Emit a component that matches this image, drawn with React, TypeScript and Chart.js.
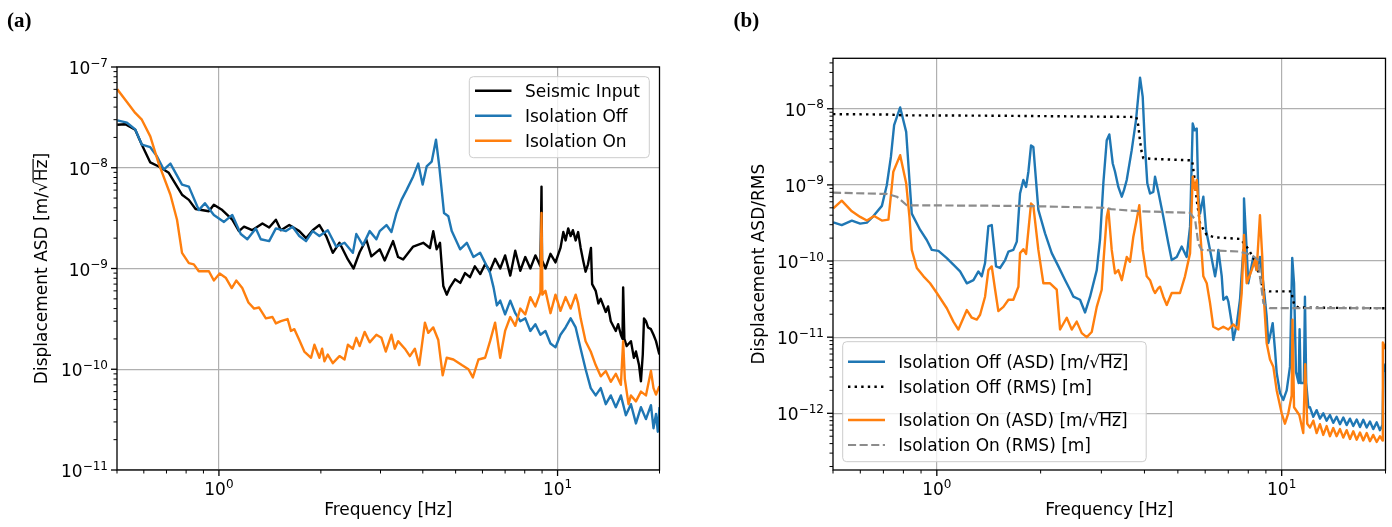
import { useEffect, useRef } from "react";
import { Chart, registerables } from "chart.js";

Chart.register(...registerables);

// ---------------- Panel (a): [frequency Hz, displacement ASD m/sqrt(Hz)] ----------------
const seismicA: [number, number][] = [
  [0.501, 2.67e-8], [0.529, 2.7e-8], [0.566, 2.38e-8], [0.592, 1.69e-8], [0.627, 1.13e-8], [0.664, 1.03e-8],
  [0.711, 8.9e-9], [0.778, 5.4e-9], [0.815, 4.8e-9], [0.853, 3.9e-9], [0.934, 3.7e-9], [0.966, 4.3e-9],
  [1.023, 3.8e-9], [1.095, 3.05e-9], [1.146, 2.35e-9], [1.186, 2.6e-9], [1.253, 2.4e-9], [1.344, 2.8e-9],
  [1.407, 2.55e-9], [1.473, 3.05e-9], [1.524, 2.4e-9], [1.613, 2.7e-9], [1.727, 2.35e-9], [1.808, 2.0e-9],
  [1.892, 2.4e-9], [1.98, 2.7e-9], [2.073, 2.1e-9], [2.169, 1.43e-9], [2.27, 1.8e-9], [2.403, 1.23e-9],
  [2.498, 1.0e-9], [2.603, 1.45e-9], [2.724, 1.94e-9], [2.819, 1.32e-9], [2.984, 1.55e-9], [3.087, 1.2e-9],
  [3.267, 1.87e-9], [3.381, 1.3e-9], [3.498, 1.23e-9], [3.747, 1.65e-9], [4.012, 1.8e-9], [4.199, 1.6e-9],
  [4.295, 2.35e-9], [4.395, 1.55e-9], [4.496, 1.8e-9], [4.598, 6.7e-10], [4.706, 5.5e-10], [4.81, 6.5e-10],
  [4.98, 7.8e-10], [5.16, 7.2e-10], [5.33, 9.0e-10], [5.51, 8.2e-10], [5.7, 1.05e-9], [5.91, 8.8e-10],
  [6.11, 1.1e-9], [6.32, 9.5e-10], [6.54, 1.25e-9], [6.77, 1.0e-9], [7.0, 1.35e-9], [7.25, 8.5e-10],
  [7.5, 1.5e-9], [7.76, 9.5e-10], [8.03, 1.3e-9], [8.31, 1.0e-9], [8.6, 1.35e-9], [8.9, 1.05e-9],
  [8.966, 6.5e-9], [9.0, 1.2e-9], [9.21, 1.0e-9], [9.53, 1.4e-9], [9.86, 1.15e-9], [10.2, 1.6e-9],
  [10.4, 2.3e-9], [10.56, 1.9e-9], [10.75, 2.5e-9], [10.93, 2.1e-9], [11.1, 2.4e-9], [11.31, 1.9e-9],
  [11.5, 2.3e-9], [11.7, 1.6e-9], [11.9, 1.2e-9], [12.1, 9.3e-10], [12.3, 1.1e-9], [12.55, 1.6e-9],
  [12.65, 7e-10], [12.96, 6e-10], [13.2, 4.5e-10], [13.41, 5e-10], [13.88, 3.7e-10], [14.1, 4.2e-10],
  [14.36, 3e-10], [14.86, 2.4e-10], [15.1, 2.8e-10], [15.38, 2.2e-10], [15.55, 2.0e-10], [15.62, 6.5e-10],
  [15.75, 2.0e-10], [16.0, 1.7e-10], [16.47, 1.9e-10], [16.8, 1.3e-10], [17.04, 1.5e-10], [17.4, 1.1e-10],
  [17.63, 7.6e-11], [17.85, 1.4e-10], [18.0, 3.2e-10], [18.24, 3.0e-10], [18.5, 2.6e-10], [18.87, 2.5e-10],
  [19.2, 2.2e-10], [19.53, 1.9e-10], [19.98, 1.4e-10],
];

const offA: [number, number][] = [
  [0.501, 2.95e-8], [0.535, 2.8e-8], [0.566, 2.4e-8], [0.592, 1.7e-8], [0.627, 1.6e-8], [0.656, 1.3e-8],
  [0.687, 9.6e-9], [0.719, 1.1e-8], [0.778, 6.8e-9], [0.815, 6.5e-9], [0.872, 3.8e-9], [0.909, 4.45e-9],
  [0.966, 3.4e-9], [1.035, 2.9e-9], [1.095, 3.4e-9], [1.16, 2.2e-9], [1.213, 1.95e-9], [1.285, 2.5e-9],
  [1.329, 1.95e-9], [1.407, 1.87e-9], [1.473, 2.5e-9], [1.577, 2.35e-9], [1.65, 2.6e-9], [1.727, 2.1e-9],
  [1.808, 1.87e-9], [1.892, 2.35e-9], [1.98, 2.1e-9], [2.096, 2.4e-9], [2.22, 1.65e-9], [2.349, 1.8e-9],
  [2.486, 1.43e-9], [2.545, 2.2e-9], [2.662, 1.7e-9], [2.787, 2.35e-9], [2.917, 1.95e-9], [2.984, 2.35e-9],
  [3.124, 2.7e-9], [3.232, 2.3e-9], [3.344, 3.55e-9], [3.46, 4.8e-9], [3.581, 6.0e-9], [3.747, 8.2e-9],
  [3.877, 1.1e-8], [3.995, 6.8e-9], [4.106, 1.03e-8], [4.249, 1.15e-8], [4.375, 1.9e-8], [4.474, 1.03e-8],
  [4.621, 3.55e-9], [4.758, 3.3e-9], [4.87, 2.35e-9], [5.155, 1.55e-9], [5.395, 1.8e-9], [5.644, 1.3e-9],
  [5.907, 1.43e-9], [6.184, 1.05e-9], [6.32, 9e-10], [6.47, 6.5e-10], [6.62, 4.3e-10], [6.77, 4.8e-10],
  [7.0, 3.5e-10], [7.25, 4.8e-10], [7.5, 3.6e-10], [7.76, 3.0e-10], [8.03, 3.2e-10], [8.31, 2.4e-10],
  [8.6, 2.8e-10], [8.9, 2.2e-10], [9.21, 2.4e-10], [9.53, 1.8e-10], [9.86, 1.65e-10], [10.2, 2.2e-10],
  [10.56, 2.6e-10], [10.93, 3.2e-10], [11.31, 2.6e-10], [11.7, 1.6e-10], [12.1, 1.0e-10], [12.53, 6.5e-11],
  [12.96, 5.5e-11], [13.41, 6.5e-11], [13.88, 4.5e-11], [14.36, 5.5e-11], [14.86, 4.2e-11], [15.38, 5.5e-11],
  [15.91, 3.5e-11], [16.47, 4.5e-11], [17.04, 2.9e-11], [17.63, 4.2e-11], [18.24, 3.2e-11], [18.87, 4.4e-11],
  [19.2, 2.6e-11], [19.53, 3.6e-11], [19.77, 2.4e-11], [20, 4.2e-11],
];

const onA: [number, number][] = [
  [0.501, 6.0e-8], [0.535, 4.5e-8], [0.566, 3.5e-8], [0.592, 3.0e-8], [0.627, 2.05e-8], [0.664, 1.1e-8],
  [0.719, 5.4e-9], [0.752, 3.05e-9], [0.778, 1.43e-9], [0.815, 1.13e-9], [0.843, 1.1e-9], [0.872, 9.4e-10],
  [0.934, 9.4e-10], [0.966, 7.6e-10], [1.005, 8.9e-10], [1.047, 8.1e-10], [1.091, 6.4e-10], [1.125, 7.6e-10],
  [1.172, 6.4e-10], [1.222, 4.6e-10], [1.27, 4.0e-10], [1.314, 4.1e-10], [1.376, 3.2e-10], [1.439, 3.3e-10],
  [1.473, 2.85e-10], [1.524, 3.0e-10], [1.595, 3.15e-10], [1.632, 2.4e-10], [1.67, 2.5e-10], [1.727, 1.95e-10],
  [1.787, 1.5e-10], [1.871, 1.3e-10], [1.914, 1.75e-10], [1.98, 1.3e-10], [2.017, 1.6e-10], [2.049, 1.2e-10],
  [2.096, 1.4e-10], [2.169, 1.15e-10], [2.27, 1.35e-10], [2.349, 1.25e-10], [2.403, 1.75e-10], [2.486, 1.6e-10],
  [2.545, 2.05e-10], [2.603, 1.7e-10], [2.693, 2.35e-10], [2.787, 1.85e-10], [2.917, 2.2e-10], [3.019, 2.05e-10],
  [3.109, 1.5e-10], [3.232, 2.2e-10], [3.306, 1.6e-10], [3.381, 1.9e-10], [3.54, 1.6e-10], [3.663, 1.35e-10],
  [3.79, 1.6e-10], [3.904, 1.1e-10], [4.058, 2.9e-10], [4.151, 2.3e-10], [4.295, 2.6e-10], [4.444, 1.95e-10],
  [4.579, 8.7e-11], [4.706, 1.3e-10], [4.924, 1.25e-10], [5.215, 1.1e-10], [5.455, 1.0e-10], [5.622, 8.3e-11],
  [5.84, 1.25e-10], [6.11, 1.3e-10], [6.32, 1.9e-10], [6.54, 2.9e-10], [6.77, 1.3e-10], [7.0, 2.4e-10],
  [7.25, 3.3e-10], [7.5, 2.7e-10], [7.76, 4.0e-10], [8.03, 3.5e-10], [8.31, 5.2e-10], [8.6, 4.2e-10],
  [8.9, 5.8e-10], [8.966, 3.55e-9], [9.02, 5.5e-10], [9.21, 6e-10], [9.53, 3.6e-10], [9.86, 5.5e-10],
  [10.2, 3.8e-10], [10.56, 5.2e-10], [10.93, 4.0e-10], [11.31, 5.5e-10], [11.5, 4.5e-10], [11.7, 3.2e-10],
  [12.1, 1.9e-10], [12.53, 1.5e-10], [12.96, 1.1e-10], [13.41, 8.5e-11], [13.88, 9.6e-11], [14.36, 7.5e-11],
  [14.86, 9e-11], [15.38, 7e-11], [15.62, 1.9e-10], [15.8, 8e-11], [16.2, 4.5e-11], [16.47, 5.5e-11],
  [17.04, 4.8e-11], [17.63, 6e-11], [18.24, 5.5e-11], [18.87, 9.6e-11], [19.2, 6.5e-11], [19.53, 5.6e-11],
  [19.98, 6.8e-11],
];

// ---------------- Panel (b): [frequency Hz, ASD m/sqrt(Hz) or RMS m] ----------------
const offAsdB: [number, number][] = [
  [0.501, 3.22e-10], [0.53, 2.97e-10], [0.567, 3.39e-10], [0.5995, 3.1e-10], [0.627, 3.2e-10], [0.655, 3.9e-10],
  [0.693, 5.3e-10], [0.716, 9.9e-10], [0.736, 2.33e-9], [0.752, 6.1e-9], [0.783, 1.04e-8], [0.815, 4.97e-9],
  [0.833, 1.16e-9], [0.846, 4.2e-10], [0.895, 2.56e-10], [0.935, 1.89e-10], [0.967, 1.4e-10], [1.011, 1.36e-10],
  [1.069, 1.09e-10], [1.13, 8.5e-11], [1.168, 7.3e-11], [1.222, 5.1e-11], [1.277, 5.6e-11], [1.32, 7.3e-11],
  [1.35, 6.3e-11], [1.38, 9.4e-11], [1.411, 2.88e-10], [1.443, 2.97e-10], [1.485, 8.5e-11], [1.525, 8.1e-11],
  [1.578, 1.03e-10], [1.613, 1.33e-10], [1.667, 1.4e-10], [1.706, 1.8e-10], [1.743, 7.7e-10], [1.782, 1.16e-9],
  [1.815, 9.4e-10], [1.843, 1.49e-9], [1.876, 3.3e-9], [1.905, 3.15e-9], [1.97, 4.7e-10], [2.06, 2.31e-10],
  [2.154, 1.27e-10], [2.252, 8.5e-11], [2.354, 5.65e-11], [2.434, 4.2e-11], [2.489, 3.41e-11], [2.602, 3.1e-11],
  [2.691, 2.11e-11], [2.782, 3.4e-11], [2.909, 7.6e-11], [2.973, 1.89e-10], [3.04, 1.05e-9], [3.11, 3.87e-9],
  [3.164, 4.6e-9], [3.237, 1.91e-9], [3.287, 1.49e-9], [3.36, 9.4e-10], [3.438, 7e-10], [3.491, 8.6e-10],
  [3.554, 1.16e-9], [3.674, 2.86e-9], [3.781, 7.1e-9], [3.884, 2.56e-8], [3.954, 1.43e-8], [4.015, 3.16e-9],
  [4.077, 1.05e-9], [4.152, 7.7e-10], [4.244, 8.1e-10], [4.293, 1.28e-9], [4.388, 8.1e-10], [4.537, 3.82e-10],
  [4.691, 1.71e-10], [4.799, 1.03e-10], [4.962, 1.13e-10], [5.13, 1.55e-10], [5.303, 1.13e-10], [5.424, 2.83e-10],
  [5.521, 6.4e-9], [5.595, 5.2e-9], [5.671, 5.5e-9], [5.733, 7e-10], [5.798, 4.2e-10], [5.927, 7e-10],
  [6.035, 2.56e-10], [6.198, 1.4e-10], [6.41, 6.3e-11], [6.482, 8.5e-11], [6.552, 1.4e-10], [6.702, 6.3e-11],
  [6.773, 3.1e-11], [6.928, 3.4e-11], [7.002, 2.96e-11], [7.163, 1.53e-11], [7.24, 9.2e-12], [7.406, 1.47e-11],
  [7.57, 3.1e-11], [7.739, 1.4e-10], [7.775, 6.65e-10], [7.915, 1.4e-10], [8.0, 5.1e-11], [8.272, 1.13e-10],
  [8.46, 7.6e-11], [8.65, 1.13e-10], [8.845, 5.1e-11], [9.045, 1.87e-11], [9.145, 8.4e-12], [9.25, 1.03e-11],
  [9.417, 1.53e-11], [9.563, 6.8e-12], [9.672, 3.4e-12], [9.888, 1.85e-12], [10.11, 1.5e-12], [10.34, 2.0e-12],
  [10.57, 4.1e-12], [10.73, 1.1e-10], [10.86, 5.1e-11], [11.0, 3.5e-12], [11.2, 2.5e-12], [11.27, 1.27e-11],
  [11.35, 2.5e-12], [11.6, 2.5e-12], [11.68, 3.4e-11], [11.78, 2.5e-12], [11.95, 1.2e-12], [12.08, 1.2e-12],
  [12.35, 9e-13], [12.63, 1.1e-12], [12.91, 8.5e-13], [13.2, 1.0e-12], [13.5, 8e-13], [13.8, 9.5e-13],
  [14.11, 7.5e-13], [14.43, 9e-13], [14.76, 7.2e-13], [15.09, 8.8e-13], [15.43, 7e-13], [15.78, 8.5e-13],
  [16.13, 6.8e-13], [16.5, 8.3e-13], [16.87, 6.6e-13], [17.24, 8.2e-13], [17.64, 6.5e-13], [18.03, 7.8e-13],
  [18.43, 6.2e-13], [18.86, 7.6e-13], [19.27, 6.0e-13], [19.6, 7e-13], [19.75, 4.4e-12], [20, 3.5e-12],
];

const offRmsB: [number, number][] = [
  [0.5, 8.5e-9], [0.72, 8.4e-9], [0.8, 8.2e-9], [1.5, 8.1e-9], [3.79, 7.8e-9], [3.84, 6.0e-9], [3.88, 3.9e-9],
  [3.92, 2.8e-9], [3.97, 2.25e-9], [4.2, 2.2e-9], [5.5, 2.1e-9], [5.58, 1.28e-9], [5.67, 6.3e-10],
  [5.8, 3.1e-10], [6.06, 2.2e-10], [6.4, 2.05e-10], [7.6, 1.95e-10], [7.78, 1.7e-10], [7.95, 1.5e-10],
  [8.26, 1.13e-10], [8.5, 8e-11], [8.65, 6.3e-11], [8.83, 4.2e-11], [9.2, 4.0e-11], [10.7, 4.0e-11],
  [10.75, 3.2e-11], [10.9, 2.6e-11], [11.2, 2.45e-11], [20, 2.4e-11],
];

const onAsdB: [number, number][] = [
  [0.501, 4.92e-10], [0.53, 6.2e-10], [0.567, 4.5e-10], [0.5995, 3.8e-10], [0.627, 3.4e-10], [0.658, 3.9e-10],
  [0.693, 3.4e-10], [0.724, 3.5e-10], [0.748, 1.49e-9], [0.783, 2.46e-9], [0.815, 1.05e-9], [0.833, 3.8e-10],
  [0.846, 1.4e-10], [0.875, 8.1e-11], [0.915, 6.3e-11], [0.956, 5.1e-11], [1.0, 3.8e-11], [1.069, 2.4e-11],
  [1.117, 1.6e-11], [1.155, 1.26e-11], [1.222, 2.27e-11], [1.263, 1.8e-11], [1.306, 1.7e-11], [1.335, 1.97e-11],
  [1.38, 3.4e-11], [1.411, 7.6e-11], [1.443, 8.5e-11], [1.476, 4.2e-11], [1.508, 2.2e-11], [1.56, 2.5e-11],
  [1.613, 3.1e-11], [1.667, 3.1e-11], [1.724, 4.6e-11], [1.743, 1.27e-10], [1.782, 1.43e-10], [1.815, 1.24e-10],
  [1.876, 5.7e-10], [1.905, 5.3e-10], [1.97, 1.4e-10], [2.037, 5.1e-11], [2.13, 5.1e-11], [2.227, 4.2e-11],
  [2.277, 1.26e-11], [2.381, 1.8e-11], [2.462, 1.26e-11], [2.545, 1.6e-11], [2.632, 1.13e-11], [2.721, 1.0e-11],
  [2.813, 1.17e-11], [2.909, 2.5e-11], [3.007, 4.2e-11], [3.04, 9.4e-11], [3.11, 3.8e-10], [3.143, 4.8e-10],
  [3.215, 1.4e-10], [3.287, 6.9e-11], [3.36, 7.6e-11], [3.438, 5.6e-11], [3.554, 1.13e-10], [3.633, 9.8e-11],
  [3.713, 2.07e-10], [3.799, 3.5e-10], [3.865, 5.4e-10], [3.954, 1.4e-10], [4.061, 6.3e-11], [4.152, 5.6e-11],
  [4.244, 4.2e-11], [4.293, 3.8e-11], [4.388, 4.4e-11], [4.438, 4.6e-11], [4.537, 3.4e-11], [4.642, 2.65e-11],
  [4.799, 3.8e-11], [5.072, 3.8e-11], [5.244, 6.3e-11], [5.424, 1.27e-10], [5.521, 1.28e-9], [5.607, 8.6e-10],
  [5.671, 1.16e-9], [5.771, 3.5e-10], [5.927, 6.3e-11], [6.063, 5.1e-11], [6.198, 2.8e-11], [6.333, 1.37e-11],
  [6.552, 1.26e-11], [6.773, 1.37e-11], [7.002, 1.26e-11], [7.24, 1.47e-11], [7.485, 1.26e-11], [7.656, 3.8e-11],
  [7.775, 2.2e-10], [7.915, 5.1e-11], [8.185, 7.6e-11], [8.366, 1.03e-10], [8.46, 7.6e-11], [8.65, 4.0e-10],
  [8.785, 1.13e-10], [8.845, 4.2e-11], [9.045, 8.4e-12], [9.25, 5.1e-12], [9.456, 4.1e-12], [9.672, 2.0e-12],
  [10.0, 1.0e-12], [10.22, 7.3e-13], [10.45, 1.0e-12], [10.69, 1.72e-12], [10.75, 1.7e-11], [10.86, 1.2e-12],
  [11.25, 9.5e-13], [11.55, 5.5e-13], [11.7, 4.4e-12], [11.86, 7.3e-13], [12.08, 6.5e-13], [12.35, 8e-13],
  [12.63, 5.5e-13], [12.91, 7.2e-13], [13.2, 5.2e-13], [13.5, 6.8e-13], [13.8, 5e-13], [14.11, 6.4e-13],
  [14.43, 5e-13], [14.76, 6.2e-13], [15.09, 4.8e-13], [15.43, 6e-13], [15.78, 4.6e-13], [16.13, 5.8e-13],
  [16.5, 4.5e-13], [16.87, 5.6e-13], [17.24, 4.4e-13], [17.64, 5.5e-13], [18.03, 4.3e-13], [18.43, 5.2e-13],
  [18.86, 4.2e-13], [19.27, 5.0e-13], [19.6, 4.4e-13], [19.65, 8.5e-12], [20, 7e-12],
];

const onRmsB: [number, number][] = [
  [0.5, 7.9e-10], [0.716, 7.6e-10], [0.766, 7.0e-10], [0.818, 5.4e-10], [1.743, 5.3e-10], [3.1, 5.0e-10],
  [3.2, 4.8e-10], [3.9, 4.5e-10], [5.42, 4.3e-10], [5.61, 3.5e-10], [5.73, 1.7e-10], [5.86, 1.4e-10],
  [7.57, 1.33e-10], [8.19, 1.2e-10], [8.55, 1.03e-10], [8.65, 6.3e-11], [8.85, 2.8e-11], [9.25, 2.4e-11],
  [20, 2.4e-11],
];

// ---------------- axes ----------------
const xRange: [number, number] = [0.5, 20];
const yRangeA: [number, number] = [1e-11, 1e-7];
const yRangeB: [number, number] = [1.8e-13, 4.6e-8];
const xLabelExps = [0, 1];
const yLabelExpsA = [-11, -10, -9, -8, -7];
const yLabelExpsB = [-12, -11, -10, -9, -8];

const FONT = "'DejaVu Sans', 'Liberation Sans', sans-serif";
const W = 696;
const H = 527;

type Seg = { t: string; over?: boolean };
type Series = { data: [number, number][]; color: string; width: number; dash: number[] };
type Row = { label: Seg[]; color: string; width: number; dash: number[]; y: number };
type Spec = {
  offsetX: number;
  area: { left: number; right: number; top: number; bottom: number };
  yRange: [number, number];
  yExps: number[];
  series: Series[];
  legend: { x: number; y: number; w: number; h: number; lx0: number; lx1: number; tx: number; rows: Row[] };
  yTitle: Seg[];
  yTitleX: number;
  tag: string;
  tagX: number;
};

const BLUE = "#1f77b4";
const ORANGE = "#ff7f0e";
const GREY = "#8c8c8c";
const DOT = [2.4, 4.2];
const DASH = [8.1, 3.5];

const unitSegs = (pre: string): Seg[] => [{ t: pre + "[m/\u221A" }, { t: "Hz", over: true }, { t: "]" }];

const specA: Spec = {
  offsetX: 0,
  area: { left: 117, right: 659.5, top: 67, bottom: 470 },
  yRange: yRangeA,
  yExps: yLabelExpsA,
  series: [
    { data: seismicA, color: "#000000", width: 2.4, dash: [] },
    { data: offA, color: BLUE, width: 2.4, dash: [] },
    { data: onA, color: ORANGE, width: 2.4, dash: [] },
  ],
  legend: {
    x: 469.3, y: 76.7, w: 180, h: 81, lx0: 475, lx1: 511.5, tx: 525,
    rows: [
      { label: [{ t: "Seismic Input" }], color: "#000000", width: 2.4, dash: [], y: 90.7 },
      { label: [{ t: "Isolation Off" }], color: BLUE, width: 2.4, dash: [], y: 115.7 },
      { label: [{ t: "Isolation On" }], color: ORANGE, width: 2.4, dash: [], y: 140.7 },
    ],
  },
  yTitle: unitSegs("Displacement ASD "),
  yTitleX: 46.5,
  tag: "(a)",
  tagX: 7,
};

const specB: Spec = {
  offsetX: 696,
  area: { left: 833, right: 1385.5, top: 58.3, bottom: 470 },
  yRange: yRangeB,
  yExps: yLabelExpsB,
  series: [
    { data: offAsdB, color: BLUE, width: 2.4, dash: [] },
    { data: offRmsB, color: "#000000", width: 2.4, dash: DOT },
    { data: onAsdB, color: ORANGE, width: 2.4, dash: [] },
    { data: onRmsB, color: GREY, width: 2.2, dash: DASH },
  ],
  legend: {
    x: 842.7, y: 341.7, w: 303.5, h: 120, lx0: 848, lx1: 885, tx: 898.3,
    rows: [
      { label: unitSegs("Isolation Off (ASD) "), color: BLUE, width: 2.4, dash: [], y: 361.7 },
      { label: [{ t: "Isolation Off (RMS) [m]" }], color: "#000000", width: 2.4, dash: DOT, y: 386.7 },
      { label: unitSegs("Isolation On (ASD) "), color: ORANGE, width: 2.4, dash: [], y: 420 },
      { label: [{ t: "Isolation On (RMS) [m]" }], color: GREY, width: 2.2, dash: DASH, y: 445 },
    ],
  },
  yTitle: [{ t: "Displacement ASD/RMS" }],
  yTitleX: 763.5,
  tag: "(b)",
  tagX: 733.5,
};

function logTicks(min: number, max: number) {
  const out: { value: number; major: boolean }[] = [];
  const e0 = Math.floor(Math.log10(min)) - 1;
  const e1 = Math.ceil(Math.log10(max)) + 1;
  for (let e = e0; e <= e1; e++) {
    for (let m = 1; m <= 9; m++) {
      const v = m * Math.pow(10, e);
      if (v >= min * 0.9999 && v <= max * 1.0001) out.push({ value: v, major: m === 1 });
    }
  }
  return out;
}

function richWidth(ctx: CanvasRenderingContext2D, segs: Seg[]) {
  return segs.reduce((w, s) => w + ctx.measureText(s.t).width, 0);
}

function drawRich(ctx: CanvasRenderingContext2D, segs: Seg[], x: number, y: number) {
  const rootTop = ctx.measureText("\u221A").actualBoundingBoxAscent || 13;
  let cx = x;
  for (const s of segs) {
    const w = ctx.measureText(s.t).width;
    ctx.fillText(s.t, cx, y);
    if (s.over) ctx.fillRect(cx - 0.6, y - rootTop, w + 1.2, 1.2);
    cx += w;
  }
}

function drawPow(ctx: CanvasRenderingContext2D, exp: number, x: number, y: number, align: "right" | "center") {
  const base = "10";
  const sup = exp < 0 ? "\u2212" + String(-exp) : String(exp);
  ctx.font = `17px ${FONT}`;
  const wb = ctx.measureText(base).width;
  ctx.font = `12px ${FONT}`;
  const ws = ctx.measureText(sup).width;
  const total = wb + ws;
  const x0 = align === "right" ? x - total : x - total / 2;
  ctx.font = `17px ${FONT}`;
  ctx.fillText(base, x0, y);
  ctx.font = `12px ${FONT}`;
  ctx.fillText(sup, x0 + wb, y - 7.5);
}

function buildChart(canvas: HTMLCanvasElement, spec: Spec) {
  const left = spec.area.left - spec.offsetX;
  const right = spec.area.right - spec.offsetX;
  const xTicks = logTicks(xRange[0], xRange[1]);
  const yTicks = logTicks(spec.yRange[0], spec.yRange[1]);
  const gridColor = (c: any) => (c.tick && c.tick.major ? "#b0b0b0" : "rgba(0,0,0,0)");

  const datasets = [...spec.series].reverse().map((s) => ({
    data: s.data.map(([x, y]) => ({ x, y })),
    borderColor: s.color,
    backgroundColor: s.color,
    borderWidth: s.width,
    borderDash: s.dash,
    borderJoinStyle: "round" as const,
    borderCapStyle: "butt" as const,
    pointRadius: 0,
    pointHoverRadius: 0,
    tension: 0,
    fill: false,
  }));

  const decor = {
    id: "decor" + spec.tag,
    afterDraw(chart: any) {
      const ctx: CanvasRenderingContext2D = chart.ctx;
      const a = chart.chartArea;
      const xs = chart.scales.x;
      const ys = chart.scales.y;
      const ox = spec.offsetX;
      ctx.save();
      ctx.fillStyle = "#000";
      ctx.strokeStyle = "#000";
      ctx.setLineDash([]);

      for (const t of xTicks) {
        const px = xs.getPixelForValue(t.value);
        ctx.lineWidth = t.major ? 1.3 : 1;
        ctx.beginPath();
        ctx.moveTo(px, a.bottom);
        ctx.lineTo(px, a.bottom + (t.major ? 6 : 3.5));
        ctx.stroke();
      }
      for (const t of yTicks) {
        const py = ys.getPixelForValue(t.value);
        ctx.lineWidth = t.major ? 1.3 : 1;
        ctx.beginPath();
        ctx.moveTo(a.left, py);
        ctx.lineTo(a.left - (t.major ? 6 : 3.5), py);
        ctx.stroke();
      }
      ctx.lineWidth = 1.3;
      ctx.strokeRect(a.left, a.top, a.right - a.left, a.bottom - a.top);

      ctx.textBaseline = "alphabetic";
      ctx.textAlign = "left";
      for (const e of xLabelExps) {
        const px = xs.getPixelForValue(Math.pow(10, e));
        drawPow(ctx, e, px, a.bottom + 25, "center");
      }
      for (const e of spec.yExps) {
        const py = ys.getPixelForValue(Math.pow(10, e));
        drawPow(ctx, e, a.left - 9, py + 7, "right");
      }

      ctx.font = `17px ${FONT}`;
      const xt = "Frequency [Hz]";
      ctx.fillText(xt, (a.left + a.right) / 2 - ctx.measureText(xt).width / 2, 515);
      ctx.save();
      ctx.translate(spec.yTitleX - ox, (a.top + a.bottom) / 2);
      ctx.rotate(-Math.PI / 2);
      const tw = richWidth(ctx, spec.yTitle);
      drawRich(ctx, spec.yTitle, -tw / 2, 0);
      ctx.restore();

      const L = spec.legend;
      const bx = L.x - ox;
      const r = 4;
      ctx.beginPath();
      ctx.moveTo(bx + r, L.y);
      ctx.lineTo(bx + L.w - r, L.y);
      ctx.quadraticCurveTo(bx + L.w, L.y, bx + L.w, L.y + r);
      ctx.lineTo(bx + L.w, L.y + L.h - r);
      ctx.quadraticCurveTo(bx + L.w, L.y + L.h, bx + L.w - r, L.y + L.h);
      ctx.lineTo(bx + r, L.y + L.h);
      ctx.quadraticCurveTo(bx, L.y + L.h, bx, L.y + L.h - r);
      ctx.lineTo(bx, L.y + r);
      ctx.quadraticCurveTo(bx, L.y, bx + r, L.y);
      ctx.closePath();
      ctx.fillStyle = "rgba(255,255,255,0.8)";
      ctx.fill();
      ctx.strokeStyle = "#cccccc";
      ctx.lineWidth = 1;
      ctx.stroke();
      for (const row of L.rows) {
        ctx.strokeStyle = row.color;
        ctx.lineWidth = row.width;
        ctx.setLineDash(row.dash);
        ctx.lineCap = "butt";
        ctx.beginPath();
        ctx.moveTo(L.lx0 - ox, row.y);
        ctx.lineTo(L.lx1 - ox, row.y);
        ctx.stroke();
        ctx.setLineDash([]);
        ctx.fillStyle = "#000";
        ctx.font = `17px ${FONT}`;
        drawRich(ctx, row.label, L.tx - ox, row.y + 6);
      }

      ctx.fillStyle = "#000";
      ctx.font = `bold 21px 'Liberation Serif', 'DejaVu Serif', serif`;
      ctx.fillText(spec.tag, spec.tagX - ox, 26.5);
      ctx.restore();
    },
  };

  return new Chart(canvas, {
    type: "line",
    data: { datasets },
    options: {
      animation: false,
      responsive: false,
      maintainAspectRatio: false,
      devicePixelRatio: 1,
      layout: { padding: { left: 0, right: W - right, top: spec.area.top, bottom: 0 } },
      plugins: { legend: { display: false }, tooltip: { enabled: false }, title: { display: false } },
      events: [],
      scales: {
        x: {
          type: "logarithmic",
          position: "bottom",
          min: xRange[0],
          max: xRange[1],
          afterBuildTicks: (s: any) => {
            s.ticks = xTicks.map((t) => ({ ...t }));
          },
          afterFit: (s: any) => {
            s.height = H - spec.area.bottom;
          },
          ticks: { display: false },
          grid: { color: gridColor, lineWidth: 1.2, drawTicks: false },
          border: { display: false },
        },
        y: {
          type: "logarithmic",
          position: "left",
          min: spec.yRange[0],
          max: spec.yRange[1],
          afterBuildTicks: (s: any) => {
            s.ticks = yTicks.map((t) => ({ ...t }));
          },
          afterFit: (s: any) => {
            s.width = left;
          },
          ticks: { display: false },
          grid: { color: gridColor, lineWidth: 1.2, drawTicks: false },
          border: { display: false },
        },
      },
    } as any,
    plugins: [decor],
  });
}

function Panel({ spec }: { spec: Spec }) {
  const ref = useRef<HTMLCanvasElement>(null);
  useEffect(() => {
    if (!ref.current) return;
    const chart = buildChart(ref.current, spec);
    return () => chart.destroy();
  }, [spec]);
  return (
    <canvas
      ref={ref}
      width={W}
      height={H}
      style={{ position: "absolute", left: spec.offsetX, top: 0, width: W, height: H }}
    />
  );
}

export default function App() {
  return (
    <div
      style={{
        position: "fixed",
        left: 0,
        top: 0,
        width: 1392,
        height: 527,
        background: "#ffffff",
        overflow: "hidden",
      }}
    >
      <Panel spec={specA} />
      <Panel spec={specB} />
    </div>
  );
}
